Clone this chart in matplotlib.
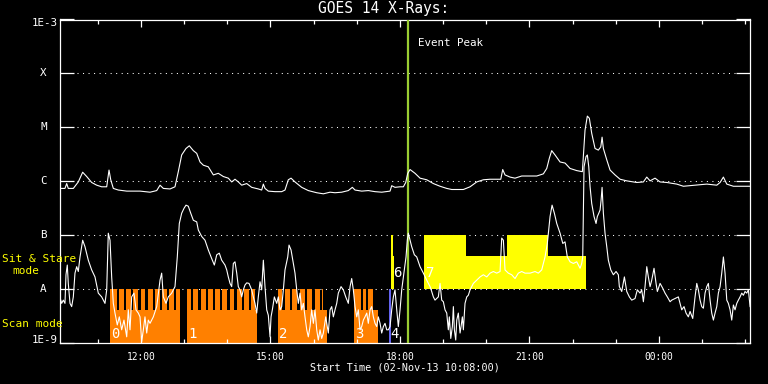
import numpy as np
import matplotlib
matplotlib.use("Agg")
import matplotlib.pyplot as plt
import matplotlib.transforms as mtransforms
from matplotlib.ticker import NullLocator

plt.rcParams['font.family'] = ['DejaVu Sans Mono']

# start of plot: 02-Nov-13 10:08 ; times below are minutes after start
start_hour = 10 + 8 / 60.0
span_min = 959

# GOES 14 long channel (1-8 A): [minutes, log10 flux W/m^2]
long_xray = np.array([
    [0, -6.13], [6.5, -6.13], [8.9, -6.04], [11.1, -6.13], [18.1, -6.13], [25.0, -6.01], [31.1, -5.83],
    [36.7, -5.91], [43.6, -6.02], [50.6, -6.07], [57.5, -6.10], [64.5, -6.10], [67.7, -5.79], [70.1, -5.97],
    [73.7, -6.13], [80.6, -6.16], [92.3, -6.18], [110.8, -6.18], [124.7, -6.20], [134.0, -6.17], [138.6, -6.07],
    [143.2, -6.13], [152.5, -6.14], [159.4, -6.10], [164.0, -5.82], [168.7, -5.51], [174.7, -5.39], [179.3, -5.34],
    [184.9, -5.43], [189.6, -5.48], [194.2, -5.64], [198.8, -5.70], [205.7, -5.73], [212.7, -5.88], [219.6, -5.85],
    [226.6, -5.91], [233.5, -5.94], [238.2, -6.01], [242.8, -5.96], [247.4, -6.01], [252.1, -6.07], [259.1, -6.04],
    [266.0, -6.11], [275.2, -6.14], [279.9, -6.16], [282.2, -6.05], [284.5, -6.13], [289.1, -6.18], [298.4, -6.19],
    [307.7, -6.19], [312.3, -6.16], [316.9, -5.97], [320.7, -5.94], [326.2, -6.01], [335.5, -6.11], [344.7, -6.17],
    [356.4, -6.21], [365.6, -6.23], [374.9, -6.20], [381.8, -6.21], [391.1, -6.20], [400.3, -6.17], [405.9, -6.11],
    [409.6, -6.16], [418.9, -6.18], [428.1, -6.17], [437.4, -6.19], [446.7, -6.20], [458.3, -6.18], [460.6, -6.08],
    [465.2, -6.11], [472.2, -6.10], [476.8, -6.10], [480.1, -6.02], [482.9, -5.85], [486.1, -5.78], [493.0, -5.85],
    [500.0, -5.94], [509.3, -5.97], [518.5, -6.04], [527.8, -6.09], [537.1, -6.13], [544.0, -6.15], [560.2, -6.15],
    [569.5, -6.10], [578.8, -6.01], [588.0, -5.97], [597.3, -5.96], [612.2, -5.96], [614.9, -5.78], [618.1, -5.88],
    [625.1, -5.92], [632.0, -5.94], [641.3, -5.90], [662.2, -5.90], [671.4, -5.86], [676.1, -5.76], [679.7, -5.57],
    [683.0, -5.43], [687.6, -5.51], [694.6, -5.64], [701.5, -5.66], [708.5, -5.76], [717.8, -5.80], [725.6, -5.82],
    [727.0, -5.54], [729.3, -5.05], [732.5, -4.79], [735.3, -4.83], [738.6, -5.11], [743.2, -5.39], [747.8, -5.42],
    [751.2, -5.36], [753.0, -5.18], [754.8, -5.39], [759.5, -5.60], [764.1, -5.79], [771.0, -5.88], [778.0, -5.96],
    [787.3, -5.99], [801.2, -6.02], [810.4, -6.01], [815.1, -5.92], [819.7, -5.99], [826.6, -5.94], [833.6, -6.01],
    [842.9, -6.02], [856.8, -6.05], [866.0, -6.09], [882.2, -6.07], [898.5, -6.05], [912.4, -6.07], [917.0, -6.02],
    [921.6, -5.92], [926.3, -6.05], [935.5, -6.09], [954.1, -6.09], [958.7, -6.09],
])

# GOES 14 short channel (0.5-4 A): [minutes, log10 flux W/m^2]
short_xray = np.array([
    [0, -8.17], [1.9, -8.26], [4.2, -8.20], [6.5, -8.26], [7.9, -7.73], [9.7, -7.55], [11.1, -7.89], [13.5, -8.26],
    [15.8, -8.32], [18.1, -8.14], [20.4, -7.70], [22.8, -7.58], [25.0, -7.67], [27.4, -7.40], [31.1, -7.09],
    [34.3, -7.21], [38.9, -7.46], [43.6, -7.64], [48.2, -7.77], [52.8, -8.07], [57.5, -8.14], [62.1, -8.26],
    [64.5, -8.01], [66.7, -6.96], [69.1, -7.09], [71.4, -7.77], [73.7, -8.26], [76.0, -8.44], [79.2, -8.66],
    [82.0, -8.51], [85.3, -8.75], [88.5, -8.57], [92.3, -8.88], [94.5, -8.38], [96.9, -8.75], [99.2, -8.14],
    [102.4, -8.07], [105.2, -8.38], [108.4, -8.44], [110.8, -8.51], [113.1, -8.97], [115.4, -8.75], [117.7, -8.51],
    [120.1, -8.81], [122.3, -8.57], [124.7, -8.63], [129.3, -8.51], [134.0, -8.32], [138.6, -7.83], [140.9, -7.70],
    [143.2, -8.14], [146.9, -8.26], [150.1, -8.14], [154.8, -8.07], [159.4, -7.95], [162.6, -7.40], [165.4, -6.78],
    [168.7, -6.59], [171.9, -6.50], [174.7, -6.44], [177.9, -6.46], [181.3, -6.59], [184.9, -6.72], [189.6, -6.75],
    [191.8, -6.90], [196.5, -7.02], [201.1, -7.09], [205.7, -7.27], [210.4, -7.43], [214.1, -7.55], [217.4, -7.36],
    [221.0, -7.33], [224.3, -7.46], [228.9, -7.55], [231.3, -7.64], [233.5, -7.77], [235.9, -7.89], [238.2, -7.95],
    [240.5, -7.52], [242.8, -7.49], [245.2, -7.70], [247.4, -7.95], [249.8, -8.01], [252.1, -8.14], [254.4, -8.01],
    [256.7, -7.92], [259.1, -7.88], [262.3, -7.89], [266.0, -8.01], [268.3, -8.14], [270.6, -8.26], [273.0, -8.44],
    [275.2, -8.14], [277.6, -7.86], [279.9, -8.01], [282.2, -7.46], [284.5, -7.95], [286.9, -8.38], [289.1, -8.48],
    [291.5, -8.88], [292.9, -8.51], [294.7, -8.38], [297.5, -8.14], [300.8, -8.26], [303.0, -8.14], [305.4, -8.38],
    [307.7, -8.32], [310.0, -8.01], [312.3, -7.64], [316.1, -7.40], [317.9, -7.18], [320.7, -7.27], [323.9, -7.52],
    [326.2, -7.70], [328.6, -8.01], [330.8, -8.26], [333.2, -8.07], [335.5, -8.38], [337.8, -8.26], [340.1, -8.51],
    [342.5, -8.75], [344.7, -8.88], [347.1, -8.69], [349.4, -8.38], [351.7, -8.63], [354.0, -8.38], [356.4, -8.75],
    [358.6, -8.94], [361.0, -8.75], [363.3, -8.91], [365.6, -8.81], [368.9, -8.51], [372.5, -8.81], [374.9, -8.38],
    [377.2, -8.32], [379.5, -8.51], [381.8, -8.38], [384.2, -8.26], [386.4, -8.07], [390.2, -7.95], [393.4, -8.01],
    [396.7, -8.14], [400.3, -8.26], [402.7, -7.95], [405.0, -7.80], [407.3, -8.01], [409.6, -8.32], [412.0, -8.51],
    [414.2, -8.38], [416.6, -8.75], [418.9, -8.69], [421.2, -8.57], [423.5, -8.51], [425.9, -8.44], [428.1, -8.63],
    [430.5, -8.38], [432.8, -8.32], [435.1, -8.51], [437.4, -8.63], [439.8, -8.69], [442.0, -8.51], [444.4, -8.63],
    [446.7, -8.81], [449.0, -8.69], [451.3, -8.63], [453.7, -8.75], [455.9, -8.75], [458.3, -8.69], [460.6, -8.38],
    [462.9, -8.14], [465.2, -8.01], [467.6, -8.38], [469.8, -8.69], [472.2, -8.38], [474.5, -8.01], [476.8, -7.77],
    [479.1, -7.52], [480.5, -7.40], [482.3, -7.09], [483.7, -6.96], [486.1, -7.09], [488.4, -7.21], [492.1, -7.36],
    [495.4, -7.40], [500.0, -7.58], [504.6, -7.70], [509.3, -7.83], [513.9, -7.95], [516.2, -8.04], [518.5, -8.14],
    [520.8, -8.20], [523.2, -8.17], [525.4, -8.14], [527.8, -7.89], [530.1, -8.20], [532.4, -8.23], [534.7, -8.38],
    [537.1, -8.44], [539.3, -8.75], [540.7, -8.51], [542.7, -8.91], [544.9, -8.69], [546.3, -8.32], [547.7, -8.75],
    [549.6, -8.94], [551.0, -8.57], [553.2, -8.44], [555.6, -8.81], [557.0, -8.69], [558.8, -8.51], [560.2, -8.75],
    [561.6, -8.44], [562.5, -8.26], [564.9, -8.14], [567.1, -8.11], [569.5, -8.01], [571.8, -7.95], [574.1, -7.89],
    [578.8, -7.83], [583.4, -7.77], [588.0, -7.73], [592.7, -7.77], [597.3, -7.70], [601.9, -7.67], [606.6, -7.70],
    [611.2, -7.67], [613.5, -7.05], [615.8, -7.09], [618.1, -7.64], [622.7, -7.70], [627.4, -7.73], [632.0, -7.80],
    [636.6, -7.70], [641.3, -7.67], [645.9, -7.70], [652.9, -7.70], [659.8, -7.67], [664.4, -7.70], [669.1, -7.64],
    [671.4, -7.52], [673.7, -7.40], [676.9, -7.15], [680.7, -6.65], [683.5, -6.44], [686.7, -6.59], [690.0, -6.78],
    [694.6, -6.96], [698.4, -7.15], [701.5, -7.12], [704.7, -7.40], [708.5, -7.49], [713.1, -7.52], [717.8, -7.49],
    [722.4, -7.61], [724.7, -7.52], [726.1, -7.40], [727.9, -5.73], [730.7, -5.54], [732.5, -5.51], [734.5, -5.73],
    [736.3, -6.10], [738.6, -6.41], [741.8, -6.65], [744.6, -6.78], [746.4, -6.65], [748.4, -6.59], [750.2, -6.53],
    [751.6, -6.35], [753.0, -6.11], [754.8, -6.59], [757.1, -6.96], [759.5, -7.21], [761.7, -7.46], [765.1, -7.64],
    [768.7, -7.73], [772.4, -7.67], [775.6, -7.73], [777.0, -7.95], [780.3, -8.04], [784.0, -7.77], [787.3, -8.04],
    [790.9, -8.14], [794.2, -8.20], [798.8, -8.17], [802.0, -8.01], [805.8, -8.07], [808.1, -8.01], [810.4, -8.23],
    [812.7, -7.95], [815.1, -7.58], [817.3, -7.77], [819.7, -7.95], [822.0, -7.83], [825.2, -7.61], [828.0, -7.89],
    [829.8, -8.04], [833.6, -7.89], [837.3, -7.98], [840.5, -8.07], [843.7, -8.14], [847.5, -8.23], [849.8, -8.20],
    [854.4, -8.17], [859.0, -8.14], [861.4, -8.26], [863.7, -8.38], [866.9, -8.32], [869.7, -8.44], [872.9, -8.51],
    [875.3, -8.41], [879.0, -8.54], [882.2, -8.14], [884.6, -7.89], [886.8, -8.01], [889.2, -8.20], [891.5, -8.32],
    [893.8, -8.35], [896.1, -8.07], [898.5, -7.95], [900.7, -7.89], [903.1, -8.20], [905.4, -8.44], [907.7, -8.57],
    [910.0, -8.44], [912.4, -8.32], [914.6, -8.07], [917.0, -7.95], [919.3, -7.70], [921.6, -7.40], [923.9, -7.70],
    [926.3, -8.20], [928.5, -8.26], [930.9, -8.38], [933.2, -8.57], [935.5, -8.29], [937.8, -8.38], [940.2, -8.26],
    [942.4, -8.20], [944.8, -8.14], [947.1, -8.07], [949.4, -8.11], [951.7, -8.04], [954.1, -8.07], [956.3, -8.01],
    [958.7, -8.32],
])

class_levels = [1e-8, 1e-7, 1e-6, 1e-5, 1e-4]
class_names = ['A', 'B', 'C', 'M', 'X']

# scan mode blocks: label, start, end, end of tall exposures, gap starts (minutes)
scan_blocks = [
    ('0', 69.1, 166.4, 166.4, [78.4, 88.1, 98.3, 108.4, 118.2, 128.4, 138.6, 148.3, 158.0]),
    ('1', 175.7, 274.0, 271.0, [181.7, 191.8, 202.1, 211.8, 222.0, 232.1, 241.9, 252.1, 261.9]),
    ('2', 302.2, 370.3, 365.6, [308.6, 319.3, 329.4, 340.1, 350.3, 360.5]),
    ('3', 408.2, 441.2, 435.1, [418.0, 424.9]),
]
gap_len = 3.2
other_block = ('4', 457.3, 460.1)
# sit & stare blocks: label, start, end, tall intervals
stare_blocks = [
    ('6', 459.7, 464.3, [(459.7, 462.5)]),
    ('7', 505.5, 730.3, [(505.5, 563.9), (620.5, 677.5)]),
]
scan_low, scan_high = 1e-9, 1e-8
scan_mid = 4.2e-9
stare_low, stare_mid, stare_high = 1e-8, 4.2e-8, 1e-7

peak_min = 482.9

orange = '#ff8000'
yellow = '#ffff00'
blue = '#6464f0'
green = '#9acd32'

fig = plt.figure(figsize=(7.68, 3.84), dpi=100, facecolor='black')
ax = fig.add_axes([60.3 / 768, 40.7 / 384, 690 / 768, 323.8 / 384])
ax.set_facecolor('black')
ax.set_yscale('log')
ax.set_xlim(0, span_min)
ax.set_ylim(1e-9, 1e-3)


def rect(a, b, lo, hi, c):
    ax.bar(a, hi - lo, width=b - a, bottom=lo, align='edge', color=c, linewidth=0, zorder=1)


for lab, s, e, te, gaps in scan_blocks:
    rect(s, e, scan_low, scan_mid, orange)
    edges = [s]
    for g in gaps:
        edges += [g, g + gap_len]
    edges.append(te)
    for a, b in zip(edges[0::2], edges[1::2]):
        rect(a, b, scan_low, scan_high, orange)

rect(other_block[1], other_block[2], scan_low, scan_high, blue)

for lab, s, e, tall in stare_blocks:
    rect(s, e, stare_low, stare_mid, yellow)
    for a, b in tall:
        rect(a, b, stare_low, stare_high, yellow)

# dotted class lines
ax.hlines(class_levels, 23, span_min - 20, colors='white', linestyles=(0, (1, 4.3)),
          linewidth=0.75, zorder=0.5)

ax.axvline(peak_min, color=green, linewidth=1.6, zorder=3)

ax.plot(long_xray[:, 0], 10 ** long_xray[:, 1], color='white', linewidth=0.8, zorder=4)
ax.plot(short_xray[:, 0], 10 ** short_xray[:, 1], color='white', linewidth=0.8, zorder=4)

# block numbers
tr = mtransforms.blended_transform_factory(ax.transData, ax.transAxes)
for lab, s, e, te, gaps in scan_blocks + [other_block + (None, None)]:
    ax.annotate(lab, (s, 0.015), xycoords=tr, xytext=(1, 0), textcoords='offset points',
                color='white', fontsize=10, va='baseline', ha='left', zorder=5)
for lab, s, e, tall in stare_blocks:
    ax.annotate(lab, (s, 0.205), xycoords=tr, xytext=(1.5, 0), textcoords='offset points',
                color='white', fontsize=10, va='baseline', ha='left', zorder=5)

ax.annotate('Event Peak', (peak_min, 0.927), xycoords=tr, xytext=(7.4, 0), textcoords='offset points',
            color='white', fontsize=7.8, va='center', ha='left')

# axes styling
for sp in ax.spines.values():
    sp.set_color('white')
    sp.set_linewidth(0.9)

ax.set_yticks([10.0 ** k for k in range(-9, -2)])
ax.yaxis.set_minor_locator(NullLocator())
ax.tick_params(axis='y', which='major', direction='in', length=10.3, width=0.9, color='white',
               left=True, right=True, labelleft=False)

major_hours = [12, 15, 18, 21, 24]
minor_hours = [h for h in range(11, 27) if h not in major_hours]
ax.set_xticks([(h - start_hour) * 60 for h in major_hours])
ax.set_xticklabels(['%02d:00' % (h % 24) for h in major_hours])
ax.set_xticks([(h - start_hour) * 60 for h in minor_hours], minor=True)
ax.tick_params(axis='x', which='both', direction='in', top=True, bottom=True, color='white',
               labelcolor='white', labelsize=6.9, pad=6, width=0.9)
ax.tick_params(axis='x', which='major', length=4.7)
ax.tick_params(axis='x', which='minor', length=3)

ytr = mtransforms.blended_transform_factory(fig.transFigure, ax.transData)
ax.annotate('1E-3', (57.5 / 768, 1e-3), xycoords=ytr, xytext=(0, -2.7), textcoords='offset points',
            color='white', fontsize=7.8, ha='right', va='center', annotation_clip=False)
ax.annotate('1E-9', (57.5 / 768, 1e-9), xycoords=ytr, xytext=(0, 2.4), textcoords='offset points',
            color='white', fontsize=7.8, ha='right', va='center', annotation_clip=False)
for lvl, name in zip(class_levels, class_names):
    ax.annotate(name, (43.3 / 768, lvl), xycoords=ytr, color='white', fontsize=7.8,
                ha='center', va='center', annotation_clip=False)

fig.text(2 / 768, 1 - 259 / 384, 'Sit & Stare', color=yellow, fontsize=8, ha='left', va='center')
fig.text(12.7 / 768, 1 - 271 / 384, 'mode', color=yellow, fontsize=8, ha='left', va='center')
fig.text(1.7 / 768, 1 - 324.3 / 384, 'Scan mode', color=yellow, fontsize=8, ha='left', va='center')

fig.text(0.5, 1 - 9 / 384, 'GOES 14 X-Rays:', color='white', fontsize=10.5, ha='center', va='center')
fig.text(405.3 / 768, 1 - 368 / 384, 'Start Time (02-Nov-13 10:08:00)', color='white', fontsize=7.3,
         ha='center', va='center')

fig.savefig('out.png', dpi=100, facecolor='black')
